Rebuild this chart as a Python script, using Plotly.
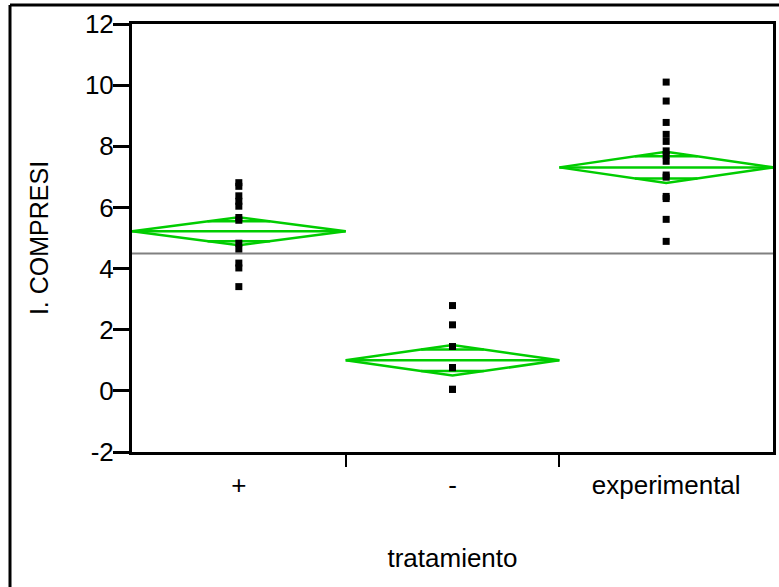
import math
import plotly.graph_objects as go

# ---------------- data ----------------
categories = ["+", "-", "experimental"]
pts_plus = [6.81, 6.69, 6.38, 6.20, 6.04, 5.67, 5.58, 4.83, 4.64, 4.18, 4.02, 3.41]
pts_minus = [2.79, 2.16, 1.45, 0.76, 0.76, 0.05, 0.05]
pts_exp = [10.10, 9.48, 8.78, 8.39, 8.16, 7.85, 7.71, 7.51, 7.06, 6.99, 6.36, 6.29, 5.61, 4.89]
group_means = [5.22, 1.00, 7.31]
group_ci = [0.46, 0.50, 0.51]
grand_mean = 4.49
y_ticks = [-2, 0, 2, 4, 6, 8, 10, 12]
y_tick_text = ["-2", "0", "2", "4", "6", "8", "10", "12"]

# ---------------- layout constants ----------------
W, H = 779, 587
ML, MR, MT, MB = 132, 6, 24, 135
PW, PH = W - ML - MR, H - MT - MB
FONT = "Arial, Liberation Sans, sans-serif"
GREEN = "rgb(0,205,0)"

fig = go.Figure()

# grand mean reference line
fig.add_trace(go.Scatter(x=[0, 3], y=[grand_mean, grand_mean], mode="lines",
                         line=dict(color="rgb(128,128,128)", width=2),
                         hoverinfo="skip", showlegend=False))

# means diamonds
for i, (m, ci) in enumerate(zip(group_means, group_ci)):
    left, right, c = i, i + 1, i + 0.5
    fig.add_trace(go.Scatter(x=[left, c, right, c, left], y=[m, m + ci, m, m - ci, m],
                             mode="lines", line=dict(color=GREEN, width=2.5),
                             hoverinfo="skip", showlegend=False))
    fig.add_trace(go.Scatter(x=[left, right], y=[m, m], mode="lines",
                             line=dict(color=GREEN, width=2.5),
                             hoverinfo="skip", showlegend=False))
    f = 1 - 1 / math.sqrt(2)
    hw = 0.5 * f
    for s in (1, -1):
        yy = m + s * ci / math.sqrt(2)
        fig.add_trace(go.Scatter(x=[c - hw, c + hw], y=[yy, yy], mode="lines",
                                 line=dict(color=GREEN, width=2.5),
                                 hoverinfo="skip", showlegend=False))

# points
for i, pts in enumerate([pts_plus, pts_minus, pts_exp]):
    fig.add_trace(go.Scatter(x=[i + 0.5] * len(pts), y=pts, mode="markers",
                             marker=dict(symbol="square", size=7, color="black",
                                         line=dict(width=0)),
                             showlegend=False))

# invisible trace for the boundary-tick axis
fig.add_trace(go.Scatter(x=[0.5], y=[0], xaxis="x2", mode="markers",
                         marker=dict(opacity=0), hoverinfo="skip", showlegend=False))

border_x = (10 - ML) / PW
border_y = 1 + (MT - 5) / PH

fig.update_layout(
    width=W, height=H,
    margin=dict(l=ML, r=MR, t=MT, b=MB, autoexpand=False),
    paper_bgcolor="white", plot_bgcolor="white",
    font=dict(family=FONT, size=26, color="black"),
    xaxis=dict(range=[0, 3], tickvals=[0.5, 1.5, 2.5], ticktext=categories,
               ticks="", showgrid=False, zeroline=False,
               showline=True, linecolor="black", linewidth=3, mirror=True,
               ticklabelstandoff=8,
               title=dict(text="tratamiento", standoff=50,
                          font=dict(size=26)),
               tickfont=dict(size=26)),
    xaxis2=dict(range=[0, 3], overlaying="x", anchor="y", side="bottom",
                tickvals=[1, 2], ticks="outside", ticklen=14, tickwidth=2,
                tickcolor="black", showticklabels=False, showgrid=False,
                zeroline=False, showline=False),
    yaxis=dict(range=[-2, 12], tickvals=y_ticks, ticktext=y_tick_text,
               ticks="outside", ticklen=16,
               tickwidth=3, tickcolor="black", showgrid=False, zeroline=False,
               showline=True, linecolor="black", linewidth=3, mirror=True,
               ticklabelstandoff=-6,
               title=dict(text="I. COMPRESI", standoff=30,
                          font=dict(size=25)),
               tickfont=dict(size=26)),
    shapes=[
        dict(type="line", xref="paper", yref="paper", x0=border_x, x1=border_x,
             y0=-2, y1=border_y, line=dict(color="black", width=3)),
        dict(type="line", xref="paper", yref="paper", x0=border_x, x1=2,
             y0=border_y, y1=border_y, line=dict(color="black", width=3)),
    ],
)

fig.write_html("out.html")
